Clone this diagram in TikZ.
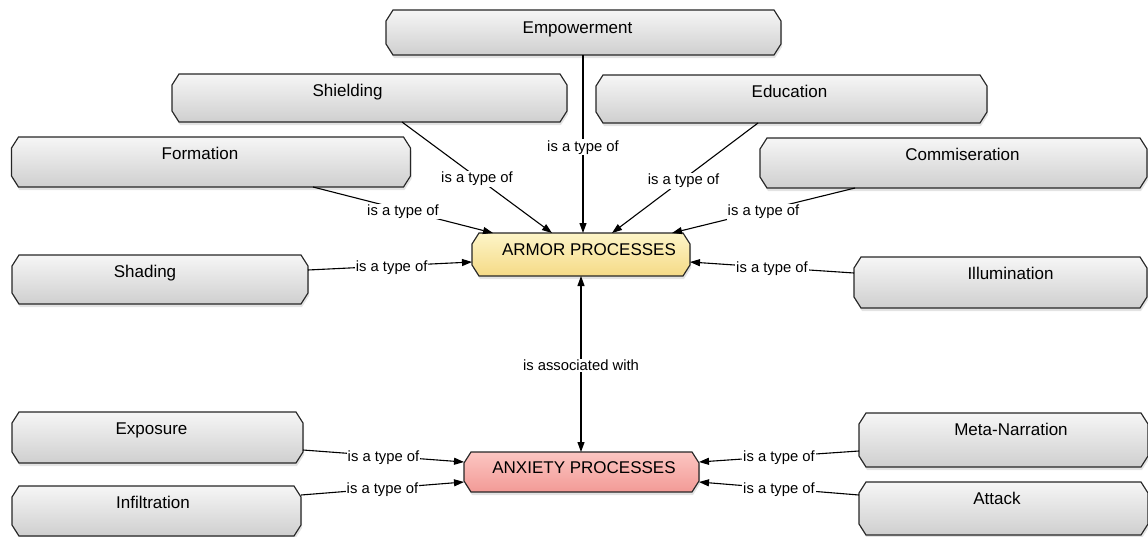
\documentclass[tikz,border=0pt]{standalone}
\usepackage{fontspec}
\setmainfont{Liberation Sans}
\usetikzlibrary{arrows.meta,shadows,backgrounds}

\definecolor{boxtop}{HTML}{F6F6F6}
\definecolor{boxbot}{HTML}{CFCFCF}
\definecolor{armortop}{HTML}{FDF5C8}
\definecolor{armorbot}{HTML}{F5DA86}
\definecolor{anxtop}{HTML}{FCC6C2}
\definecolor{anxbot}{HTML}{F29A96}
\definecolor{edgegray}{HTML}{262626}

\tikzset{
  concept/.style={rectangle, inner sep=0pt, outer sep=0pt},
  ctext/.style={font=\fontsize{17}{19}\selectfont, anchor=base, yshift=-22pt},
  rel/.style={fill=white, inner sep=1pt, yshift=-1.5pt, font=\fontsize{14.8}{16}\selectfont},
  conn/.style={draw=black, line width=1.1pt, -{Triangle[length=10pt,width=7pt]}},
  biconn/.style={draw=black, line width=1.1pt,
    {Triangle[length=10pt,width=7pt]}-{Triangle[length=10pt,width=7pt]}},
  frame/.style={draw=edgegray, line width=1.15pt,
    drop shadow={opacity=0.22, shadow xshift=1pt, shadow yshift=-3pt}},
  grayfill/.style={top color=boxtop, bottom color=boxbot},
  armorfill/.style={top color=armortop, bottom color=armorbot},
  anxfill/.style={top color=anxtop, bottom color=anxbot},
}

\begin{document}
\begin{tikzpicture}[x=1pt,y=-1pt]
\useasboundingbox (0,0) rectangle (1148,536);

% concept boxes (outline drawn behind them on the background layer)
\node[concept, minimum width=395pt, minimum height=45pt,
  label={[ctext, xshift=-6pt, yshift=-1pt]north:Empowerment}] (empowerment) at (583.5,32.5) {};
\node[concept, minimum width=395pt, minimum height=48pt,
  label={[ctext, xshift=-22pt]north:Shielding}] (shielding) at (369.5,98) {};
\node[concept, minimum width=391pt, minimum height=48pt,
  label={[ctext, xshift=-2pt]north:Education}] (education) at (791.5,99) {};
\node[concept, minimum width=399pt, minimum height=50pt,
  label={[ctext, xshift=-11pt]north:Formation}] (formation) at (211,162) {};
\node[concept, minimum width=387pt, minimum height=50pt,
  label={[ctext, xshift=9pt]north:Commiseration}] (commiseration) at (953.5,163) {};
\node[concept, minimum width=296pt, minimum height=49pt,
  label={[ctext, xshift=-15pt]north:Shading}] (shading) at (160,279.5) {};
\node[concept, minimum width=293pt, minimum height=51pt,
  label={[ctext, xshift=10pt]north:Illumination}] (illumination) at (1000.5,282.5) {};

\node[concept, minimum width=218pt, minimum height=43pt,
  label={[ctext, xshift=8pt]north:ARMOR PROCESSES}] (armor) at (581,254.5) {};
\node[concept, minimum width=235pt, minimum height=40pt,
  label={[ctext, xshift=2.5pt, yshift=1pt]north:ANXIETY PROCESSES}] (anxiety) at (581.5,472) {};

\node[concept, minimum width=291pt, minimum height=51pt,
  label={[ctext, xshift=-6pt]north:Exposure}] (exposure) at (157.5,437.5) {};
\node[concept, minimum width=289pt, minimum height=50pt,
  label={[ctext, xshift=-3.5pt]north:Infiltration}] (infiltration) at (156.5,511) {};
\node[concept, minimum width=289pt, minimum height=54pt,
  label={[ctext, xshift=7.5pt]north:Meta-Narration}] (meta) at (1003.5,440) {};
\node[concept, minimum width=289pt, minimum height=53pt,
  label={[ctext, xshift=-6.5pt]north:Attack}] (attack) at (1003.5,508.5) {};

% chamfered outlines with gradient fill
\begin{scope}[on background layer]
\foreach \n/\f in {empowerment/grayfill, shielding/grayfill, education/grayfill,
    formation/grayfill, commiseration/grayfill, shading/grayfill,
    illumination/grayfill, armor/armorfill, anxiety/anxfill,
    exposure/grayfill, infiltration/grayfill, meta/grayfill, attack/grayfill}
  \path[frame, \f]
    ([xshift=7pt]\n.north west) -- ([xshift=-7pt]\n.north east)
    -- ([yshift=-11pt]\n.north east) -- ([yshift=11pt]\n.south east)
    -- ([xshift=-7pt]\n.south east) -- ([xshift=7pt]\n.south west)
    -- ([yshift=11pt]\n.south west) -- ([yshift=-11pt]\n.north west) -- cycle;
\end{scope}

% relations into ARMOR PROCESSES
\draw[conn] ([xshift=-0.5pt]empowerment.south) -- node[rel, pos=0.51]{is a type of} ([xshift=2pt]armor.north);
\draw[conn] ([xshift=32.5pt]shielding.south) -- node[rel]{is a type of} ([xshift=-29pt]armor.north);
\draw[conn] ([xshift=-33.5pt]education.south) -- node[rel, pos=0.51]{is a type of} ([xshift=31pt]armor.north);
\draw[conn] ([xshift=102pt]formation.south) -- node[rel]{is a type of} ([xshift=-88pt]armor.north);
\draw[conn] ([xshift=-98.5pt]commiseration.south) -- node[rel]{is a type of} ([xshift=91pt]armor.north);
\draw[conn] ([yshift=9.5pt]shading.east) -- node[rel, pos=0.51]{is a type of} ([yshift=-7.5pt]armor.west);
\draw[conn] ([yshift=9.5pt]illumination.west) -- node[rel]{is a type of} ([yshift=-7.5pt]armor.east);

% association between the two process groups
\draw[biconn] (armor.south) -- node[rel]{is associated with} (armor.south |- anxiety.north);

% relations into ANXIETY PROCESSES
\draw[conn] ([yshift=-12.5pt]exposure.east) -- node[rel]{is a type of} ([yshift=10pt]anxiety.west);
\draw[conn] ([yshift=16pt]infiltration.east) -- node[rel]{is a type of} ([yshift=-10pt]anxiety.west);
\draw[conn] ([yshift=-11pt]meta.west) -- node[rel]{is a type of} ([yshift=10pt]anxiety.east);
\draw[conn] ([yshift=13.5pt]attack.west) -- node[rel]{is a type of} ([yshift=-10pt]anxiety.east);
\end{tikzpicture}
\end{document}
